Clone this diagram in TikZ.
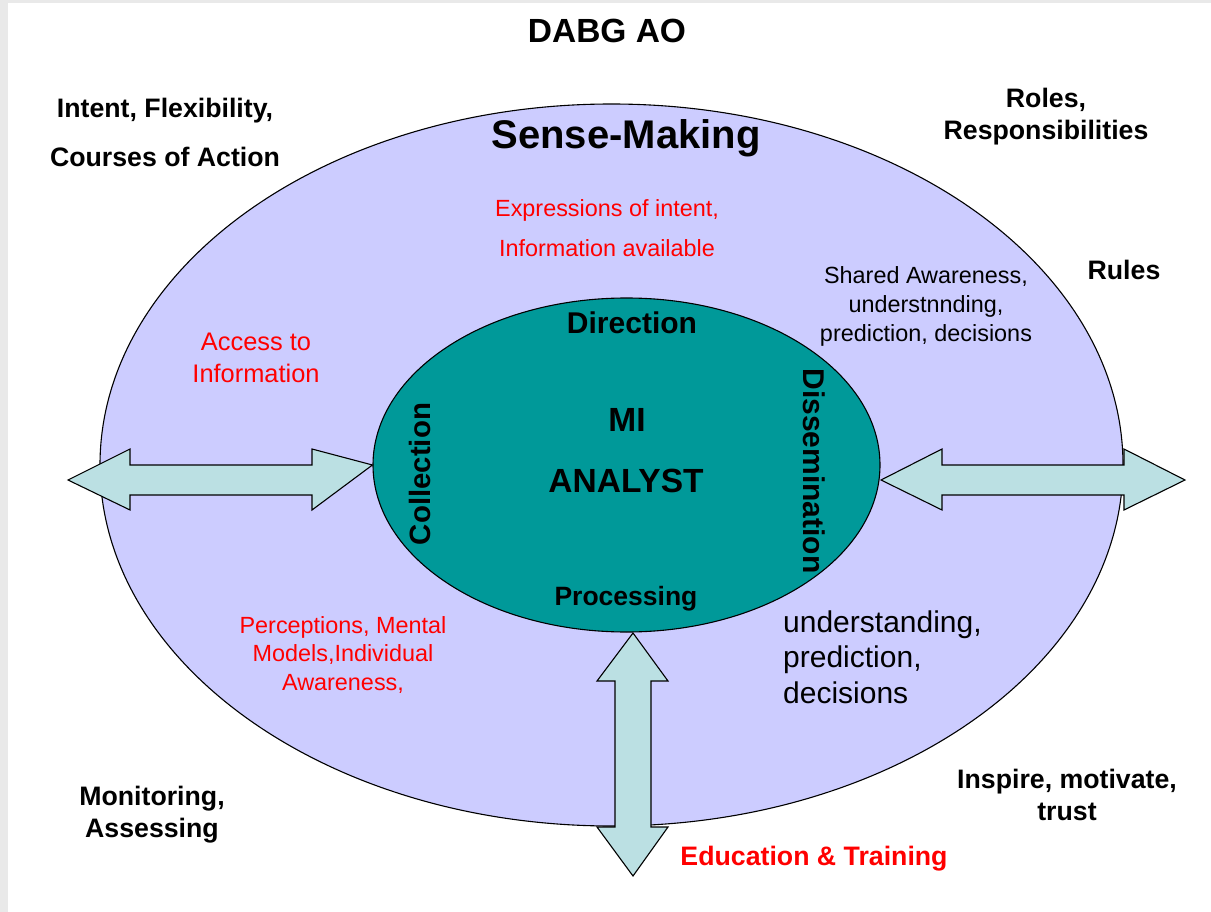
\documentclass[tikz,border=0pt]{standalone}
\usepackage{fontspec}
\setmainfont{Liberation Sans}
\usetikzlibrary{shapes.geometric}
\definecolor{outerfill}{HTML}{CCCCFF}
\definecolor{innerfill}{HTML}{009999}
\definecolor{arrowfill}{HTML}{BBE0E3}
\definecolor{bggray}{HTML}{E9E9E9}
\definecolor{redtxt}{HTML}{FF0000}
\tikzset{
  lbl/.style={font=\fontsize{26.7}{32}\selectfont\bfseries, align=center, inner sep=0pt},
  redsmall/.style={font=\fontsize{23.4}{28.5}\selectfont, text=redtxt, align=center, inner sep=0pt},
  blacksmall/.style={font=\fontsize{23.4}{29}\selectfont, align=center, inner sep=0pt},
  blockarrow/.style={draw=black, line width=1.1pt, fill=arrowfill, line join=miter},
  inlbl/.style={font=\fontsize{30}{34}\selectfont\bfseries, inner sep=0pt},
}
\begin{document}
\begin{tikzpicture}[x=1pt,y=-1pt]
\useasboundingbox (0,0) rectangle (1211,912);
\fill[bggray] (0,0) rectangle (1211,912);
\fill[white] (8,3) rectangle (1211,912);
% ellipses
\node[ellipse, draw=black, line width=1.1pt, fill=outerfill, minimum width=1023pt, minimum height=722pt, inner sep=0pt] (outer) at (611.5,465) {};
\node[ellipse, draw=black, line width=1.1pt, fill=innerfill, minimum width=507pt, minimum height=334pt, inner sep=0pt] (inner) at (626.5,465) {};
% left double arrow
\coordinate (lt) at (68,480);
\draw[blockarrow] (lt) -- (130,449) -- (130,465) -- (312,465) -- (312,449) -- (inner.west) -- (312,510) -- (312,495) -- (130,495) -- (130,510) -- cycle;
% right double arrow
\coordinate (rt) at (1185,480);
\draw[blockarrow] (881,480) -- (942,449) -- (942,465) -- (1124,465) -- (1124,449) -- (rt) -- (1124,510) -- (1124,495) -- (942,495) -- (942,510) -- cycle;
% bottom double arrow
\coordinate (bt) at (633,876);
\draw[blockarrow] (633,633) -- (668,681) -- (651,681) -- (651,827) -- (668,827) -- (bt) -- (597,827) -- (615,827) -- (615,681) -- (597,681) -- cycle;
% title and outside labels
\node[font=\fontsize{33.5}{38}\selectfont\bfseries, inner sep=0pt] (title) at (607,31) {DABG AO};
\node[lbl, font=\fontsize{26.7}{49}\selectfont\bfseries] (intent) at (165,132) {Intent, Flexibility,\\Courses of Action};
\node[lbl] (roles) at (1046,117) {Roles,\\Responsibilities};
\node[lbl] (rules) at (1124,270) {Rules};
\node[lbl] (monitor) at (152,815) {Monitoring,\\Assessing};
\node[lbl] (inspire) at (1067,795) {Inspire, motivate,\\trust};
\node[lbl, text=redtxt] (edu) at (814,859) {Education \& Training};
% inside outer ellipse
\node[font=\fontsize{40}{44}\selectfont\bfseries, inner sep=0pt] (sense) at (626,138) {Sense-Making};
\node[redsmall, font=\fontsize{23.4}{40}\selectfont] (expr) at (607,228) {Expressions of intent,\\Information available};
\node[blacksmall] (shared) at (926,306) {Shared Awareness,\\understnnding,\\prediction, decisions};
\node[redsmall, font=\fontsize{25.4}{32}\selectfont] (access) at (256,358) {Access to\\Information};
\node[redsmall] (percep) at (343,655) {Perceptions, Mental\\Models,Individual\\Awareness,};
\node[font=\fontsize{30}{35.5}\selectfont, align=left, anchor=west, inner sep=0pt] (underst) at (783,657) {understanding,\\prediction,\\decisions};
% inside inner ellipse
\node[inlbl] (dir) at (632,323) {Direction};
\node[inlbl, font=\fontsize{33.5}{38}\selectfont\bfseries] (mi) at (627,420) {MI};
\node[inlbl, font=\fontsize{33.5}{38}\selectfont\bfseries] (analyst) at (626,481) {ANALYST};
\node[inlbl, font=\fontsize{29.4}{34}\selectfont\bfseries, rotate=90] (coll) at (420,474) {Collection};
\node[inlbl, rotate=-90] (diss) at (814,471) {Dissemination};
\node[inlbl, font=\fontsize{26.5}{30}\selectfont\bfseries] (proc) at (626,599) {Processing};
\end{tikzpicture}
\end{document}
